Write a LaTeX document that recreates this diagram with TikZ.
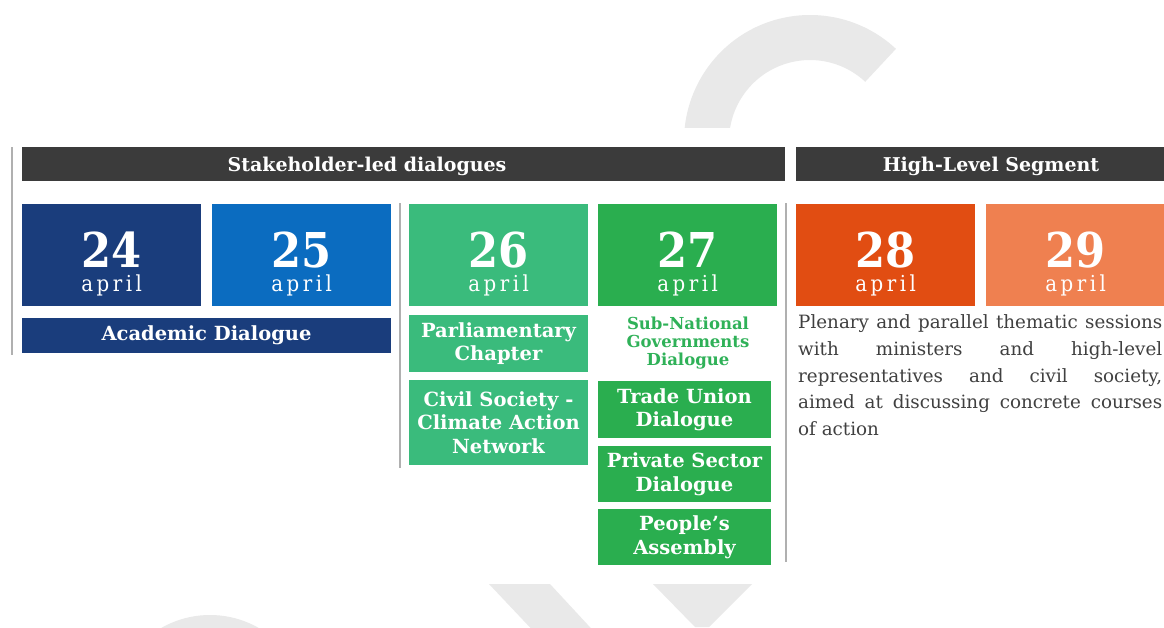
\documentclass[tikz,border=0pt]{standalone}
\usepackage{fontspec}
\setmainfont{DejaVuSerif.ttf}[BoldFont=DejaVuSerif-Bold.ttf]
\newfontfamily\condfont{DejaVuSerifCondensed.ttf}[BoldFont=DejaVuSerifCondensed-Bold.ttf]
\newfontfamily\aprfont{DejaVuSerifCondensed.ttf}[LetterSpace=16]
\usetikzlibrary{calc}
\definecolor{hdrc}{HTML}{3B3B3B}
\definecolor{navyc}{HTML}{1A3D7C}
\definecolor{bluec}{HTML}{0B6CC0}
\definecolor{lgreenc}{HTML}{3ABB7C}
\definecolor{dgreenc}{HTML}{2AAE4F}
\definecolor{sngreen}{HTML}{2FB158}
\definecolor{dorange}{HTML}{E14D12}
\definecolor{lorange}{HTML}{EF8050}
\definecolor{paratext}{HTML}{404040}
\definecolor{bgshape}{HTML}{E9E9E9}
\definecolor{sepc}{HTML}{B0B0B0}
\begin{document}
\begin{tikzpicture}[x=1pt,y=-1pt,
  hdrbar/.style={fill=hdrc, draw=none, inner sep=0pt, anchor=north west, minimum height=34pt},
  hdrtxt/.style={text=white, font=\fontsize{19}{24}\selectfont\bfseries, inner sep=0pt, anchor=base},
  datebox/.style={draw=none, inner sep=0pt, anchor=north west, minimum width=179pt, minimum height=102pt},
  numtxt/.style={text=white, font=\condfont\fontsize{48}{48}\selectfont\bfseries, inner sep=0pt, anchor=base},
  aprtxt/.style={text=white, font=\aprfont\fontsize{22}{22}\selectfont, inner sep=0pt, anchor=base},
  lblbox/.style={draw=none, text=white, inner sep=0pt, align=center, font=\fontsize{19.5}{23.5}\selectfont\bfseries},
  sntxt/.style={text=sngreen, inner sep=0pt, align=center, font=\fontsize{16.5}{18}\selectfont\bfseries},
  paraline/.style={text=paratext, inner sep=0pt, anchor=base west, font=\fontsize{18.3}{26}\selectfont},
  sepline/.style={draw=sepc, line width=1.5pt}
]
\useasboundingbox (0,0) rectangle (1164,627);
\fill[white] (0,0) rectangle (1164,627);

% background decorative shapes
\begin{scope}
  \clip (560,0) rectangle (1000,127);
  \fill[bgshape] ($(810,141)+(-47:126)$) arc[start angle=-47, end angle=-195, radius=126]
     -- ($(810,141)+(-195:81)$) arc[start angle=-195, end angle=-47, radius=81] -- cycle;
\end{scope}
\begin{scope}
  \clip (0,584) rectangle (1164,627);
  \fill[bgshape] (210,713) circle[radius=98];
  \fill[bgshape] (489,584) -- (550,584) -- (600,638) -- (540,638) -- cycle;
  \fill[bgshape] (653,584) -- (752,584) -- (709,627) -- (695,627) -- cycle;
\end{scope}

% separators
\draw[sepline] (12,147) -- (12,355);
\draw[sepline] (400,203) -- (400,468);
\draw[sepline] (786,203) -- (786,562);

% header bars
\node[hdrbar, minimum width=763pt] (h1) at (22,147) {};
\node[hdrtxt] (h1t) at (367,171) {Stakeholder-led dialogues};
\node[hdrbar, minimum width=368pt] (h2) at (796,147) {};
\node[hdrtxt] (h2t) at (991,171) {High-Level Segment};

% date boxes
\newcommand\mydatebox[4]{%
  \node[datebox, fill=#3] (#1) at (#2,204) {};
  \node[numtxt] (#1n) at ($(#1.north)+(0,63)$) {#4};
  \node[aprtxt] (#1a) at ($(#1.north)+(0,87)$) {april};
}
\mydatebox{d24}{22}{navyc}{24}
\mydatebox{d25}{212}{bluec}{25}
\mydatebox{d26}{409}{lgreenc}{26}
\mydatebox{d27}{598}{dgreenc}{27}
\mydatebox{d28}{796}{dorange}{28}
\mydatebox{d29}{986}{lorange}{29}

% label boxes
\node[lblbox, fill=navyc, minimum width=369pt, minimum height=35pt] (acad) at (206.5,335.5) {Academic Dialogue};
\node[lblbox, fill=lgreenc, minimum width=179pt, minimum height=57pt] (parl) at (498.5,343.5) {Parliamentary\\Chapter};
\node[lblbox, fill=lgreenc, minimum width=179pt, minimum height=85pt] (civil) at (498.5,422.5) {Civil Society -\\Climate Action\\Network};
\node[sntxt] (subnat) at (688,343) {Sub-National\\Governments\\Dialogue};
\node[lblbox, fill=dgreenc, minimum width=173pt, minimum height=57pt] (trade) at (684.5,409.5) {Trade Union\\Dialogue};
\node[lblbox, fill=dgreenc, minimum width=173pt, minimum height=56pt] (priv) at (684.5,474) {Private Sector\\Dialogue};
\node[lblbox, fill=dgreenc, minimum width=173pt, minimum height=56pt] (peop) at (684.5,537) {People’s\\Assembly};

% paragraph
\node[paraline] (p1) at (798,328) {\makebox[364pt][s]{Plenary and parallel thematic sessions}};
\node[paraline] (p2) at (798,355) {\makebox[364pt][s]{with ministers and high-level}};
\node[paraline] (p3) at (798,382) {\makebox[364pt][s]{representatives and civil society,}};
\node[paraline] (p4) at (798,408) {\makebox[364pt][s]{aimed at discussing concrete courses}};
\node[paraline] (p5) at (798,435) {of action};
\end{tikzpicture}
\end{document}
